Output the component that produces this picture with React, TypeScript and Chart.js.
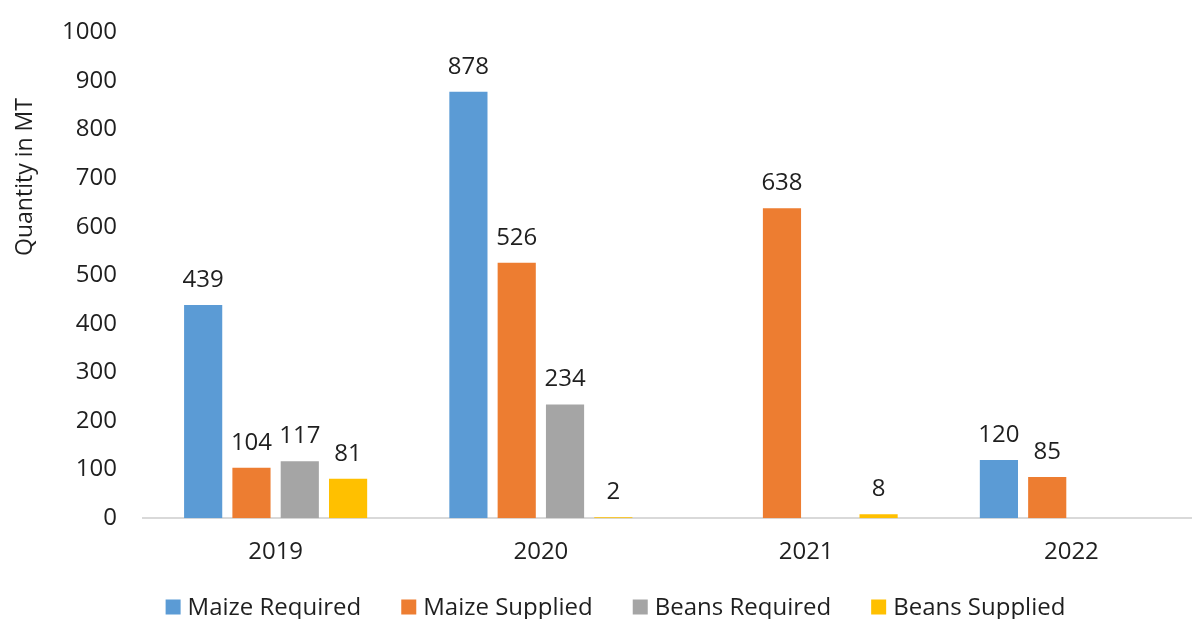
import React, { useEffect, useRef } from "react";
import { Chart, registerables } from "chart.js";

Chart.register(...registerables);

const categories = ["2019", "2020", "2021", "2022"];
const maizeRequired = [439, 878, null, 120];
const maizeSupplied = [104, 526, 638, 85];
const beansRequired = [117, 234, null, null];
const beansSupplied = [81, 2, 8, null];
const seriesNames = ["Maize Required", "Maize Supplied", "Beans Required", "Beans Supplied"];
const seriesColors = ["#5B9BD5", "#ED7D31", "#A5A5A5", "#FFC000"];
const yTitle = "Quantity in MT";

const FONT = "'Open Sans', sans-serif";
const TEXT = "#1f1f1f";
const SHIFT = 8; // canvas is shifted up inside a clipping container

const valueLabels = {
  id: "valueLabels",
  afterDatasetsDraw(chart: any) {
    const ctx = chart.ctx;
    ctx.save();
    ctx.font = `24px ${FONT}`;
    ctx.fillStyle = TEXT;
    ctx.textAlign = "center";
    ctx.textBaseline = "bottom";
    chart.data.datasets.forEach((ds: any, di: number) => {
      const meta = chart.getDatasetMeta(di);
      meta.data.forEach((el: any, i: number) => {
        const v = ds.data[i];
        if (v === null || v === undefined) return;
        ctx.fillText(String(v), el.x, el.y - 13);
      });
    });
    ctx.restore();
  },
};

const yTitlePlugin = {
  id: "yTitlePlugin",
  afterDraw(chart: any) {
    const ctx = chart.ctx;
    ctx.save();
    ctx.font = `23px ${FONT}`;
    ctx.fillStyle = TEXT;
    ctx.textAlign = "center";
    ctx.textBaseline = "middle";
    ctx.translate(25, 177 + SHIFT);
    ctx.rotate(-Math.PI / 2);
    ctx.fillText(yTitle, 0, 0);
    ctx.restore();
  },
};

const customLegend = {
  id: "customLegend",
  afterDraw(chart: any) {
    const ctx = chart.ctx;
    ctx.save();
    ctx.font = `24px ${FONT}`;
    const box = 15;
    const gapText = 7;
    const gapItem = 40;
    const widths = chart.data.datasets.map((ds: any) => ctx.measureText(ds.label).width);
    const total =
      widths.reduce((a: number, w: number) => a + box + gapText + w, 0) + gapItem * (widths.length - 1);
    let x = 615.5 - total / 2;
    const y = 607 + SHIFT;
    ctx.textBaseline = "middle";
    ctx.textAlign = "left";
    chart.data.datasets.forEach((ds: any, i: number) => {
      ctx.fillStyle = ds.backgroundColor;
      ctx.fillRect(x, y - box / 2, box, box);
      x += box + gapText;
      ctx.fillStyle = TEXT;
      ctx.fillText(ds.label, x, y + 1);
      x += widths[i] + gapItem;
    });
    ctx.restore();
  },
};

export default function App() {
  const ref = useRef<HTMLCanvasElement | null>(null);

  useEffect(() => {
    document.body.style.margin = "0";
    document.body.style.overflow = "hidden";
    const seriesData = [maizeRequired, maizeSupplied, beansRequired, beansSupplied];
    const chart = new Chart(ref.current as HTMLCanvasElement, {
      type: "bar",
      data: {
        labels: categories,
        datasets: seriesData.map((d, i) => ({
          label: seriesNames[i],
          data: d,
          backgroundColor: seriesColors[i],
          borderWidth: 0,
          categoryPercentage: 0.7285,
          barPercentage: 0.79,
        })),
      },
      options: {
        animation: false,
        responsive: false,
        maintainAspectRatio: false,
        layout: { padding: { left: 0, right: 0, top: 6, bottom: 32 } },
        plugins: {
          legend: { display: false },
          tooltip: { enabled: false },
        },
        scales: {
          x: {
            grid: { display: false, drawTicks: false },
            border: { display: true, color: "#D9D9D9", width: 2 },
            ticks: { color: TEXT, font: { family: FONT, size: 24 }, padding: 20 },
          },
          y: {
            min: 0,
            max: 1000,
            grid: { display: false, drawTicks: false },
            border: { display: false },
            ticks: {
              stepSize: 100,
              color: TEXT,
              font: { family: FONT, size: 24 },
              padding: 26,
              callback: (v: any) => String(v),
            },
            afterFit(scale: any) {
              scale.width = 143;
            },
          },
        },
      },
      plugins: [valueLabels, yTitlePlugin, customLegend],
    });
    return () => chart.destroy();
  }, []);

  return (
    <div style={{ position: "absolute", left: 0, top: 0, width: 1192, height: 619, overflow: "hidden" }}>
      <canvas
        ref={ref}
        width={1204}
        height={619 + SHIFT}
        style={{ display: "block", position: "absolute", left: 0, top: -SHIFT }}
      />
    </div>
  );
}
